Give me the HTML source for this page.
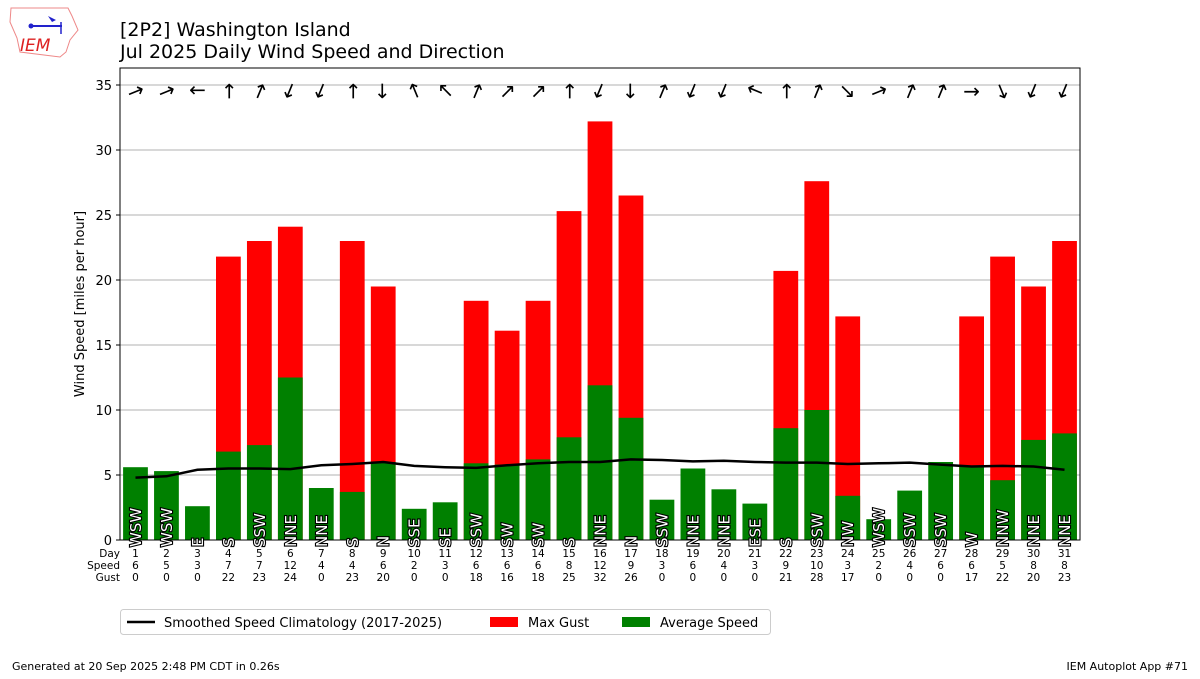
<!DOCTYPE html>
<html><head><meta charset="utf-8"><style>
body{margin:0;background:#fff;font-family:"DejaVu Sans","Liberation Sans",sans-serif}
svg text{font-family:"DejaVu Sans","Liberation Sans",sans-serif}
</style></head><body>
<svg id="c" width="1200" height="675" xmlns="http://www.w3.org/2000/svg">
<g>
<path d="M11 8 L68 8 L72 16 L78 30 L70 40 L66 52 L60 57 L20 52 L17 38 L10 22 Z" fill="none" stroke="#e88" stroke-width="1"/>
<line x1="30" y1="26" x2="62" y2="26" stroke="#22c" stroke-width="2"/>
<circle cx="31" cy="26" r="2.5" fill="#22c"/>
<line x1="61" y1="22" x2="61" y2="34" stroke="#22c" stroke-width="1.5"/>
<path d="M48 16 L56 20 L52 22 Z" fill="#22c"/>
<text x="20" y="51" font-family="Liberation Serif" font-style="italic" font-size="17" fill="#d22">IEM</text>
</g>
<text x="120" y="36" font-size="19">[2P2] Washington Island</text>
<text x="120" y="58" font-size="19">Jul 2025 Daily Wind Speed and Direction</text>
<g id="plot"></g>
<text x="12" y="670" font-size="11">Generated at 20 Sep 2025 2:48 PM CDT in 0.26s</text>
<text x="1188" y="670" font-size="11" text-anchor="end">IEM Autoplot App #71</text>
</svg>
<script>
const days=[1,2,3,4,5,6,7,8,9,10,11,12,13,14,15,16,17,18,19,20,21,22,23,24,25,26,27,28,29,30,31];
const avgSpeed=[5.6,5.3,2.6,6.8,7.3,12.5,4.0,3.7,6.0,2.4,2.9,5.9,5.8,6.2,7.9,11.9,9.4,3.1,5.5,3.9,2.8,8.6,10.0,3.4,1.6,3.8,6.0,5.7,4.6,7.7,8.2];
const maxGust=[0,0,0,21.8,23.0,24.1,0,23.0,19.5,0,0,18.4,16.1,18.4,25.3,32.2,26.5,0,0,0,0,20.7,27.6,17.2,0,0,0,17.2,21.8,19.5,23.0];
const clim=[4.8,4.9,5.4,5.5,5.5,5.45,5.75,5.85,6.0,5.7,5.6,5.55,5.75,5.9,6.0,6.0,6.2,6.15,6.05,6.1,6.0,5.95,5.95,5.85,5.9,5.95,5.8,5.65,5.7,5.65,5.4];
const dirs=["WSW","WSW","E","S","SSW","NNE","NNE","S","N","SSE","SE","SSW","SW","SW","S","NNE","N","SSW","NNE","NNE","ESE","S","SSW","NW","WSW","SSW","SSW","W","NNW","NNE","NNE"];
const speedRow=[6,5,3,7,7,12,4,4,6,2,3,6,6,6,8,12,9,3,6,4,3,9,10,3,2,4,6,6,5,8,8];
const gustRow=[0,0,0,22,23,24,0,23,20,0,0,18,16,18,25,32,26,0,0,0,0,21,28,17,0,0,0,17,22,20,23];
const yTicks=[0,5,10,15,20,25,30,35];
const compass=["N","NNE","NE","ENE","E","ESE","SE","SSE","S","SSW","SW","WSW","W","WNW","NW","NNW"];
const L=120,R=1080,T=68,B=540;
const x=d=>L+(d-0.5)*(R-L)/31;
const y=v=>B-v*13;
const bw=0.8*(R-L)/31;
const g=document.getElementById('plot');
const NS='http://www.w3.org/2000/svg';
function mk(t,a,p){const e=document.createElementNS(NS,t);for(const k in a)e.setAttribute(k,a[k]);(p||g).appendChild(e);return e;}
yTicks.forEach(v=>{
 const gl=mk('line',{x1:L,x2:R,y1:y(v),y2:y(v),stroke:'#b0b0b0','stroke-width':1});
 
 
 mk('line',{x1:L-4,x2:L,y1:y(v),y2:y(v),stroke:'#000'});
 const t=mk('text',{x:L-8,y:y(v)+5,'font-size':13,'text-anchor':'end'});t.textContent=v;
 
 
});
days.forEach((d,i)=>{
 if(maxGust[i]>0){const r=mk('rect',{x:x(d)-bw/2,y:y(maxGust[i]),width:bw,height:B-y(maxGust[i]),fill:'#ff0000'});
 
 }
 const r2=mk('rect',{x:x(d)-bw/2,y:y(avgSpeed[i]),width:bw,height:B-y(avgSpeed[i]),fill:'#008000'});
 
 
 mk('line',{x1:x(d),x2:x(d),y1:B,y2:B+3,stroke:'#000'});
 [[d,557],[speedRow[i],569],[gustRow[i],581]].forEach(([v,yy])=>{const t=mk('text',{x:x(d),y:yy,'font-size':10.5,'text-anchor':'middle'});t.textContent=v;
 
 });
});
const pl=mk('polyline',{points:days.map((d,i)=>x(d)+','+y(clim[i])).join(' '),fill:'none',stroke:'#000','stroke-width':2.5});


const fr=mk('rect',{x:L,y:T,width:R-L,height:B-T,fill:'none',stroke:'#000'});


days.forEach((d,i)=>{
 const dl=mk('text',{x:0,y:0,'font-size':15,fill:'#fff',stroke:'#000','stroke-width':2.2,'paint-order':'stroke','transform':`translate(${x(d)+5.5},${B+7}) rotate(-90)`});
 dl.textContent=dirs[i];
 
 
 const deg=compass.indexOf(dirs[i])*22.5;
 const rot=deg+180-90;
 const a=mk('text',{x:0,y:0,'font-size':20,'text-anchor':'middle','dominant-baseline':'central',transform:`translate(${x(d)},${y(35)+6}) rotate(${rot})`});
 a.textContent='→';
 
 
});
['Day','Speed','Gust'].forEach((s,k)=>{const t=mk('text',{x:L,y:557+12*k,'font-size':10.5,'text-anchor':'end'});t.textContent=s;
 
 });
const yl=mk('text',{x:0,y:0,'font-size':13,'text-anchor':'middle',transform:`translate(84,${(T+B)/2}) rotate(-90)`});
yl.textContent='Wind Speed [miles per hour]';


const lg=mk('g',{});


mk('rect',{x:120.5,y:609.5,width:650,height:25,rx:3,fill:'#fff',stroke:'#ccc'},lg);
mk('line',{x1:127,x2:155,y1:622,y2:622,stroke:'#000','stroke-width':2.5},lg);
const t1=mk('text',{x:164,y:627,'font-size':13},lg);t1.textContent='Smoothed Speed Climatology (2017-2025)';
mk('rect',{x:490,y:617,width:28,height:10,fill:'#ff0000'},lg);
const t2=mk('text',{x:528,y:627,'font-size':13},lg);t2.textContent='Max Gust';
mk('rect',{x:622,y:617,width:28,height:10,fill:'#008000'},lg);
const t3=mk('text',{x:660,y:627,'font-size':13},lg);t3.textContent='Average Speed';
</script>
</body></html>
